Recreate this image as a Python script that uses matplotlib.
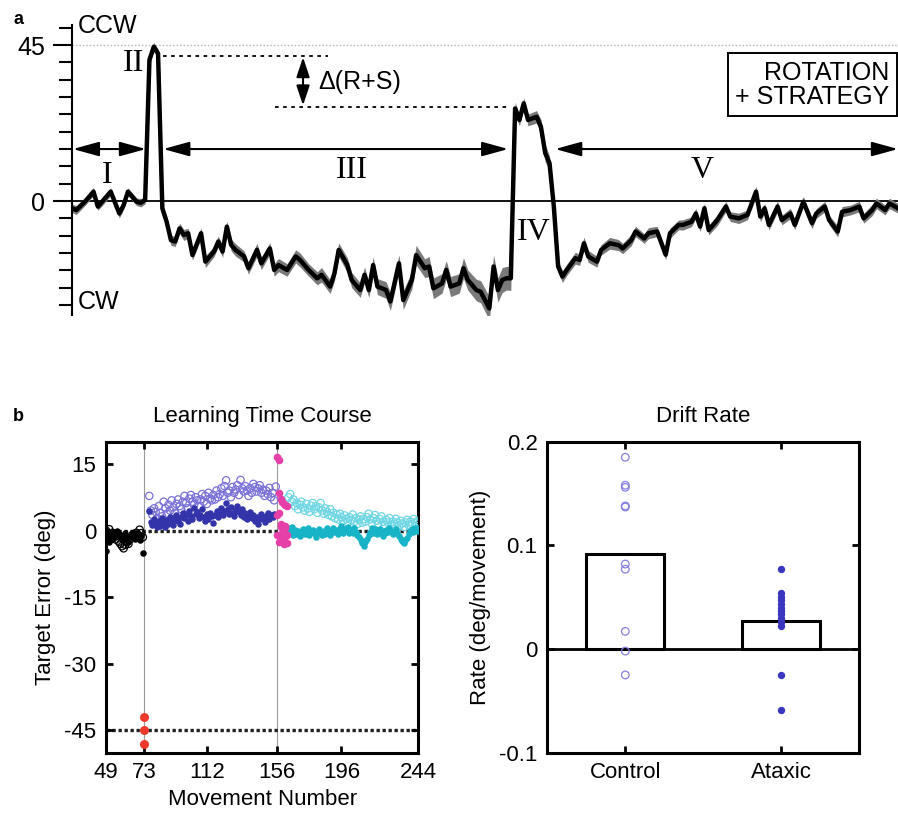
import matplotlib
matplotlib.use('Agg')
import matplotlib.pyplot as plt
import numpy as np

plt.rcParams['font.family'] = ['Liberation Sans', 'DejaVu Sans']
plt.rcParams['axes.unicode_minus'] = False

# ---------------- Panel a: mean target error trace ----------------
a_move = [0, 1, 3, 5, 6, 7, 9, 11, 12, 13,
          15, 16, 17, 18, 19, 20, 21, 22, 23, 24,
          25, 26, 27, 28, 30, 31, 33, 34, 35, 36,
          37, 38, 40, 41, 43, 44, 46, 47, 48, 50,
          52, 53, 55, 57, 58, 60, 61, 62, 64, 65,
          67, 68, 69, 70, 71, 73, 74, 76, 77, 79,
          80, 82, 83, 84, 86, 87, 88, 90, 91, 92,
          94, 95, 97, 98, 99, 100, 101, 102, 103, 104,
          105, 106, 108, 109, 110, 111, 112, 113, 114, 115,
          117, 118, 119, 120, 122, 123, 125, 127, 128, 130,
          131, 133, 134, 136, 138, 139, 141, 142, 144, 145,
          146, 147, 148, 150, 152, 153, 155, 157, 159, 160,
          161, 162, 164, 165, 167, 168, 170, 172, 173, 175,
          176, 178, 179, 181, 183, 184, 186, 187, 189, 190,
          192]
a_err = [-2.1, -2.6, -0.2, 2.7, -1.6, -0.2, 2.7, -3.6, -1.2, 2.7,
         -0.2, -0.5, 0.3, 40.7, 44.5, 42.6, -2.1, -6.0, -11.3, -11.7,
         -7.9, -9.8, -9.3, -15.6, -9.3, -17.5, -14.6, -11.7, -14.6, -7.4,
         -12.7, -14.1, -16.0, -19.4, -14.1, -18.0, -13.7, -19.9, -18.5, -19.9,
         -16.0, -17.0, -19.9, -22.3, -21.3, -24.7, -20.9, -14.1, -18.5, -22.8,
         -25.7, -21.3, -25.7, -18.5, -24.7, -25.7, -29.0, -18.0, -28.6, -22.8,
         -15.6, -19.4, -18.9, -25.2, -23.8, -19.9, -24.7, -23.8, -19.4, -22.8,
         -25.7, -26.2, -31.0, -18.9, -25.7, -22.8, -22.3, -22.3, 26.7, 23.4,
         28.2, 23.4, 24.3, 21.4, 13.8, 10.9, -1.6, -18.9, -21.8, -19.9,
         -16.5, -17.0, -12.2, -16.0, -17.5, -14.1, -12.2, -12.7, -13.7, -11.3,
         -8.8, -10.8, -9.3, -8.8, -15.5, -9.3, -6.9, -6.9, -6.0, -3.6,
         -7.4, -2.1, -8.4, -5.5, -1.6, -4.5, -5.0, -4.0, 2.7, -4.5,
         -2.1, -6.9, -1.6, -5.5, -3.6, -6.9, -0.2, -6.4, -3.6, -1.6,
         -5.5, -8.8, -3.1, -2.6, -1.6, -5.0, -2.6, -0.7, -2.6, -0.7,
         -2.1]
a_sem = [1.2, 1.3, 1.1, 1.2, 1.1, 1.2, 1.1, 1.3, 1.2, 1.1,
         1.1, 1.2, 1.1, 1.3, 1.3, 1.3, 1.2, 1.4, 1.5, 1.4,
         1.5, 1.6, 1.4, 1.5, 1.6, 1.7, 1.5, 1.6, 1.7, 1.6,
         1.7, 1.8, 1.6, 1.7, 1.9, 1.8, 1.7, 1.8, 1.9, 1.8,
         1.9, 2.0, 1.8, 1.9, 2.1, 2.0, 2.2, 2.0, 2.1, 2.2,
         2.1, 2.3, 2.2, 2.4, 2.3, 2.4, 2.6, 2.5, 2.7, 2.6,
         2.8, 2.7, 2.9, 3.0, 2.8, 2.7, 2.9, 2.8, 3.0, 2.9,
         3.1, 3.2, 3.4, 3.3, 3.5, 3.6, 3.4, 3.5, 1.8, 1.7,
         1.6, 1.7, 1.8, 2.2, 2.6, 2.0, 1.6, 1.8, 1.7, 1.6,
         1.7, 1.6, 1.8, 1.7, 1.6, 1.5, 1.7, 1.6, 1.5, 1.6,
         1.5, 1.4, 1.6, 1.5, 1.4, 1.5, 1.4, 1.5, 1.4, 1.5,
         1.4, 1.5, 1.4, 1.6, 1.5, 1.4, 1.5, 1.4, 1.6, 1.5,
         1.4, 1.5, 1.6, 1.4, 1.5, 1.4, 1.5, 1.6, 1.4, 1.5,
         1.4, 1.6, 1.5, 1.4, 1.5, 1.4, 1.6, 1.5, 1.4, 1.5,
         1.4]

# ---------------- Panel b (left): learning time course ----------------
base_move = list(range(49, 73))
base_control = [0.0, -0.5, 0.3, -1.0, -0.5, -1.5, -2.0, -1.2, -2.5, -3.0,
                -3.5, -4.0, -3.2, -2.5, -3.0, -2.0, -1.5, -0.8, -1.2, -0.5,
                -1.0, 0.2, -0.6, -1.5]
base_ataxic = [-4.6, -1.5, -2.5, -0.8, -1.8, -0.5, -1.2, -0.2, -0.8, -1.5,
               -2.2, -1.0, -0.5, -1.8, -2.5, -1.2, -0.6, -1.5, -2.0, -1.0,
               -1.6, -2.2, -1.2, -5.0]
spike_move = [73, 73, 73]
spike_err = [-42.0, -45.0, -48.0]

rot_move = list(range(76, 156))
rot_control = [7.8, 4.5, 3.5, 5.0, 4.2, 2.8, 5.5, 4.0, 3.2, 6.5,
               5.0, 3.8, 5.8, 4.5, 6.8, 5.2, 4.0, 6.0, 7.0, 5.5,
               4.8, 6.5, 7.8, 6.2, 5.0, 7.2, 8.0, 6.5, 5.8, 7.5,
               6.8, 5.5, 7.0, 8.2, 6.5, 7.8, 6.0, 8.5, 7.2, 6.8,
               8.0, 7.0, 9.0, 7.5, 8.2, 9.5, 7.8, 10.0, 11.3, 8.5,
               9.0, 7.5, 9.8, 8.5, 9.2, 10.2, 8.0, 11.4, 9.5, 8.8,
               10.0, 9.0, 7.8, 9.5, 8.5, 10.5, 9.8, 8.8, 9.5, 10.2,
               8.5, 9.2, 7.8, 9.0, 8.2, 9.6, 7.5, 8.5, 6.8, 9.9]
rot_ataxic = [4.3, 2.0, 1.2, 2.5, 1.5, 0.8, 2.2, 1.0, 2.8, 1.8,
              0.9, 2.4, 1.5, 3.0, 2.0, 1.2, 2.6, 3.5, 2.2, 1.5,
              3.0, 4.0, 2.8, 3.6, 2.2, 4.5, 3.2, 2.5, 5.0, 3.8,
              4.2, 2.8, 3.5, 4.8, 3.0, 2.2, 3.8, 2.5, 4.0, 3.2,
              1.8, 3.5, 4.5, 3.0, 4.2, 5.0, 3.6, 4.4, 6.2, 4.8,
              3.8, 5.2, 4.0, 3.2, 4.6, 5.5, 4.2, 3.5, 4.8, 3.0,
              4.0, 2.5, 3.4, 4.2, 2.8, 3.6, 2.2, 3.0, 1.5, 2.6,
              3.8, 2.8, 2.0, 3.2, 4.0, 2.5, 3.5, 3.0, 3.8, 3.5]

after_move = list(range(156, 163))
after_control = [16.5, 8.4, 7.0, 6.5, 6.0, 5.8, 5.5]
after_ataxic = [3.5, 15.9, 1.5, -0.5, -2.0, 0.5, -2.8]
after_extra_move = [156, 157, 157, 158, 159, 160, 161, 162]
after_extra = [-1.0, 4.0, -2.5, 0.8, -1.5, -3.0, 1.0, -1.0]

wash_move = list(range(163, 245))
wash_control = [7.5, 8.2, 6.5, 7.0, 5.5, 6.2, 4.8, 5.8, 6.5, 5.2,
                4.5, 6.0, 5.0, 4.2, 5.6, 6.2, 4.8, 5.5, 4.0, 5.2,
                6.2, 4.5, 3.8, 5.0, 4.2, 3.5, 4.8, 3.2, 4.0, 2.8,
                3.6, 2.5, 3.8, 3.0, 2.2, 3.4, 2.6, 1.8, 3.0, 2.4,
                3.6, 2.0, 2.8, 1.5, 2.5, 3.2, 1.8, 2.6, 2.0, 3.0,
                3.8, 2.5, 1.6, 2.8, 3.5, 2.2, 1.5, 2.6, 3.2, 2.0,
                1.2, 2.4, 1.8, 2.8, 1.0, 2.0, 1.5, 2.6, 1.8, 1.0,
                2.2, 1.6, 0.8, 1.8, 2.4, 1.2, 2.0, 1.4, 2.6, 1.8,
                1.0, 2.2]
wash_ataxic = [0.5, -0.5, 0.8, -1.0, 0.2, -0.8, 0.0, -1.2, -0.5, 0.3,
               -0.8, -0.2, 0.6, -1.0, -0.4, 0.2, -0.6, -1.4, -0.5, 0.4,
               -0.3, -1.0, 0.0, -0.7, 0.5, -0.2, -1.1, -0.4, 0.6, -0.3,
               0.2, -0.8, 0.4, 1.0, -0.5, 0.3, -0.2, 0.8, -0.6, 0.2,
               -0.5, 0.6, -0.3, -0.9, -1.5, -2.2, -2.8, -3.5, -2.6, -1.8,
               -0.9, -0.3, 0.5, -0.5, 0.3, -0.8, -0.2, 0.4, -0.6, -1.2,
               -0.5, 0.2, -0.4, 0.6, -0.2, -0.8, -0.3, 0.3, -0.6, -1.2,
               -1.8, -2.4, -2.8, -2.2, -1.6, -0.8, -0.2, 0.4, -0.3, 0.5,
               0.0, 0.6]

b_xticks = [49, 73, 112, 156, 196, 244]
b_yticks = [-45, -30, -15, 0, 15]

# ---------------- Panel b (right): drift rate ----------------
groups = ['Control', 'Ataxic']
drift_mean = [0.092, 0.027]
drift_control = [0.185, 0.158, 0.156, 0.138, 0.137, 0.082, 0.077, 0.017, -0.002, -0.025]
drift_ataxic = [0.077, 0.054, 0.050, 0.047, 0.043, 0.040, 0.037, 0.034, 0.030, 0.026,
                0.022, -0.025, -0.059]
drift_yticks = [-0.1, 0, 0.1, 0.2]
drift_yticklabels = ['-0.1', '0', '0.1', '0.2']

# ---------------- Figure ----------------
W, H = 898, 816
fig = plt.figure(figsize=(W / 100, H / 100), dpi=100)

def fx(px):
    return px / W

def fy(py):
    return 1 - py / H

# ---- Panel a ----
axa = fig.add_axes([fx(72), fy(315), fx(826), 290 / H])
me = np.array(a_err)
ms = np.array(a_sem)
axa.fill_between(a_move, me - ms, me + ms, color='#7a7a7a', lw=0, zorder=2)
axa.plot(a_move, me, color='k', lw=3.2, solid_joinstyle='round', zorder=3)
axa.set_xlim(0, 192)
axa.set_ylim(-32.9, 50.8)
for s in ['top', 'right', 'bottom']:
    axa.spines[s].set_visible(False)
axa.spines['left'].set_linewidth(1.5)
axa.set_xticks([])
axa.set_yticks([45, 0])
axa.set_yticklabels(['45', '0'])
axa.set_yticks([-30, -25, -20, -15, -10, -5, 5, 10, 15, 20, 25, 30, 35, 40, 50], minor=True)
axa.tick_params(axis='y', which='major', direction='out', length=13.5, width=1.5,
                labelsize=18, pad=6)
axa.tick_params(axis='y', which='minor', direction='out', length=9.5, width=1.5)
axa.axhline(0, color='k', lw=1.3, zorder=1)
axa.axhline(45, color='#b5b5b5', lw=1.0, ls=(0, (1, 1.5)), zorder=1)

arrow_style = dict(arrowstyle='<|-|>,head_length=0.8,head_width=0.22', color='k',
                   lw=1.5, shrinkA=0, shrinkB=0, mutation_scale=20)
for x0, x1 in [(0.2, 17.2), (21.2, 101.4), (112.3, 192)]:
    axa.annotate('', xy=(x1, 15), xytext=(x0, 15), arrowprops=arrow_style,
                 annotation_clip=False)
axa.plot([21.2, 59.5], [41.9, 41.9], color='k', lw=1.3, ls=(0, (2, 2.5)))
axa.plot([47.2, 101.2], [27.2, 27.2], color='k', lw=1.3, ls=(0, (2, 2.5)))
axa.annotate('', xy=(53.7, 41.5), xytext=(53.7, 27.6),
             arrowprops=dict(arrowstyle='<|-|>,head_length=0.6,head_width=0.2',
                             color='k', lw=1.5, shrinkA=0, shrinkB=0, mutation_scale=20))
axa.text(57.2, 34.3, 'Δ(R+S)', fontsize=18, ha='left', va='center')

serif = ['Liberation Serif', 'DejaVu Serif']
for lab, xm, yv in [('I', 8.1, 7.5), ('II', 14.2, 39.7), ('III', 65.1, 8.8),
                    ('IV', 107.4, -9.1), ('V', 146.5, 8.8)]:
    axa.text(xm, yv, lab, family=serif, fontsize=23, ha='center', va='center', zorder=4)

axa.text(190, 33.5, 'ROTATION\n+ STRATEGY', fontsize=18, ha='right', va='center',
         multialignment='right', linespacing=1.0,
         bbox=dict(boxstyle='square,pad=0.3', facecolor='white', edgecolor='k', lw=1.4))

fig.text(fx(78), fy(26), 'CCW', fontsize=18, ha='left', va='center')
fig.text(fx(78), fy(302), 'CW', fontsize=18, ha='left', va='center')
fig.text(fx(13), fy(19), 'a', fontsize=13, fontweight='bold', ha='left', va='center')

# ---- Panel b left ----
axl = fig.add_axes([fx(106), fy(752.7), fx(312.3), 311 / H])
axl.axvline(73, color='#9a9a9a', lw=0.8, zorder=1)
axl.axvline(156, color='#9a9a9a', lw=0.8, zorder=1)
axl.axhline(0, color='#222222', lw=2.4, ls=(0, (1, 0.8)), zorder=1)
axl.axhline(-45, color='#222222', lw=2.4, ls=(0, (1, 0.8)), zorder=1)

open_kw = dict(s=28, facecolors='none', linewidths=0.9, zorder=3)
fill_kw = dict(s=22, linewidths=0, zorder=4)
axl.scatter(base_move, base_control, edgecolors='k', **open_kw)
axl.scatter(base_move, base_ataxic, c='k', **fill_kw)
axl.scatter(rot_move, rot_control, edgecolors='#7a72d8', **open_kw)
axl.scatter(rot_move, rot_ataxic, c='#3434aa', **fill_kw)
axl.scatter(wash_move, wash_control, edgecolors='#6fd6e4', **open_kw)
axl.scatter(wash_move, wash_ataxic, c='#17b4c8', **fill_kw)
axl.scatter(after_move, after_control, c='#e63fa8', s=30, linewidths=0, zorder=5)
axl.scatter(after_move, after_ataxic, c='#e63fa8', s=30, linewidths=0, zorder=5)
axl.scatter(after_extra_move, after_extra, c='#e63fa8', s=30, linewidths=0, zorder=5)
axl.scatter(spike_move, spike_err, c='#ee3a2c', s=42, linewidths=0, zorder=5,
            clip_on=False)

axl.set_xlim(49, 244)
axl.set_ylim(-50, 20)
axl.set_xticks(b_xticks)
axl.set_yticks(b_yticks)
axl.set_yticklabels([str(v) for v in b_yticks])
for s in axl.spines.values():
    s.set_linewidth(2.2)
axl.tick_params(direction='in', top=True, right=True, length=5, width=2,
                labelsize=16, pad=7)
axl.set_title('Learning Time Course', fontsize=16, pad=14)
axl.set_xlabel('Movement Number', fontsize=16, labelpad=4)
axl.set_ylabel('Target Error (deg)', fontsize=16, labelpad=6)

# ---- Panel b right ----
axr = fig.add_axes([fx(547.3), fy(752.7), fx(312), 311 / H])
pos = [1, 2]
axr.bar(pos, drift_mean, width=0.5, color='white', edgecolor='k', lw=2.2, zorder=2)
axr.axhline(0, color='k', lw=2.0, zorder=3)
axr.scatter([pos[0]] * len(drift_control), drift_control, s=30, facecolors='none',
            edgecolors='#857ee2', linewidths=0.9, zorder=4)
axr.scatter([pos[1]] * len(drift_ataxic), drift_ataxic, s=28, c='#3a36c0',
            linewidths=0, zorder=4)
axr.set_xlim(0.5, 2.5)
axr.set_ylim(-0.1, 0.2)
axr.set_xticks(pos)
axr.set_xticklabels(groups)
axr.set_yticks(drift_yticks)
axr.set_yticklabels(drift_yticklabels)
for s in axr.spines.values():
    s.set_linewidth(2.2)
axr.tick_params(direction='in', top=True, right=True, length=5, width=2,
                labelsize=16, pad=7)
axr.set_title('Drift Rate', fontsize=16, pad=14)
axr.set_ylabel('Rate (deg/movement)', fontsize=16, labelpad=6)

fig.text(fx(13), fy(417), 'b', fontsize=13, fontweight='bold', ha='left', va='center')

fig.savefig('out.png', dpi=100)
